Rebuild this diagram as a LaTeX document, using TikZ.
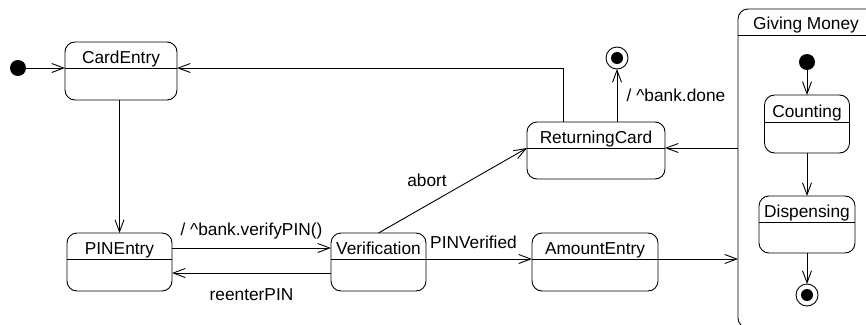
\documentclass[tikz,border=0pt]{standalone}
\usepackage{fontspec}
\setmainfont{Liberation Sans}
\usetikzlibrary{arrows.meta,calc}
\newcommand\ustate[7]{%
  \node[ustatebox, minimum width=#4pt, minimum height=#5pt, anchor=north] (#1) at (#2,#3) {};
  \coordinate (#1-dw) at ([yshift=-#6pt]#1.north west);
  \coordinate (#1-de) at ([yshift=-#6pt]#1.north east);
  \draw (#1-dw) -- (#1-de);
  \node[sname] at ([yshift=-#6pt+5pt]#1.north) {#7};
}
\begin{document}
\begin{tikzpicture}[x=1pt,y=-1pt, line width=0.9pt,
  ustatebox/.style={draw, rounded corners=10pt, inner sep=0pt, outer sep=0pt},
  lbl/.style={inner sep=0pt, font=\fontsize{17.3}{20}\selectfont},
  sname/.style={lbl, anchor=base},
  tr/.style={draw, -{Straight Barb[length=12pt,width=9pt]}},
  initst/.style={circle, fill=black, minimum size=16pt, inner sep=0pt, outer sep=0pt},
  finst/.style={circle, draw, minimum size=22pt, inner sep=0pt, outer sep=0pt,
    path picture={\fill (path picture bounding box.center) circle (6pt);}},
]
\useasboundingbox (0,0) rectangle (866,324);
\begin{scope}
\clip (0,0) rectangle (866,324);
% composite state
\node[ustatebox, minimum width=170pt, minimum height=319pt, anchor=north west] (gm) at (738,9) {};
\draw ([yshift=-26pt]gm.north west) -- ([yshift=-26pt]gm.north east);
\node[sname] (gmt) at (806,29) {Giving Money};

% states
\ustate{ce}{121}{42}{112}{58}{26}{CardEntry}
\ustate{pe}{119.5}{233}{105}{58}{26}{PINEntry}
\ustate{ver}{378.5}{233}{95}{58}{26}{Verification}
\ustate{ae}{595}{233}{126}{58}{26}{AmountEntry}
\ustate{rc}{596}{122}{138}{57}{26}{ReturningCard}
\ustate{cnt}{807}{95}{85}{58}{27}{Counting}
\ustate{dsp}{807}{196}{96}{57}{26}{Dispensing}

% pseudo states
\node[initst] (i1) at (18,68) {};
\node[initst] (i2) at (807,62) {};
\node[finst] (f1) at (617,58) {};
\node[finst] (f2) at (807,295) {};

% transitions
\draw[tr] (i1) -- (ce-dw);
\draw[tr] (ce.south -| pe.north) -- (pe.north);
\draw[tr] ([yshift=-15pt]pe.north east) -- ([yshift=-15pt]ver.north west)
  node[lbl, midway, above=8pt] (l1) {/ \textasciicircum bank.verifyPIN()};
\draw[tr] ([yshift=-40pt]ver.north west) -- ([yshift=-40pt]pe.north east)
  node[lbl, midway, below=15pt] (l2) {reenterPIN};
\draw[tr] (ver-de) -- (ae-dw);
\node[lbl] (l3) at (473.5,242) {PINVerified};
\draw[tr] (ae-de) -- (ae-de -| gm.west);
\draw[tr] (ver.north) -- (rc-dw);
\node[lbl] (l4) at (427,180) {abort};
\draw[tr] (rc-de -| gm.west) -- (rc-de);
\draw[tr] ([xshift=-33pt]rc.north) |- (ce-de);
\draw[tr] ([xshift=21pt]rc.north) -- (f1.south);
\node[lbl] (l5) at (676,95) {/ \textasciicircum bank.done};
\draw[tr] (i2) -- (cnt.north);
\draw[tr] (cnt.south) -- (dsp.north);
\draw[tr] (dsp.south) -- (f2.north);
\end{scope}
\end{tikzpicture}
\end{document}
